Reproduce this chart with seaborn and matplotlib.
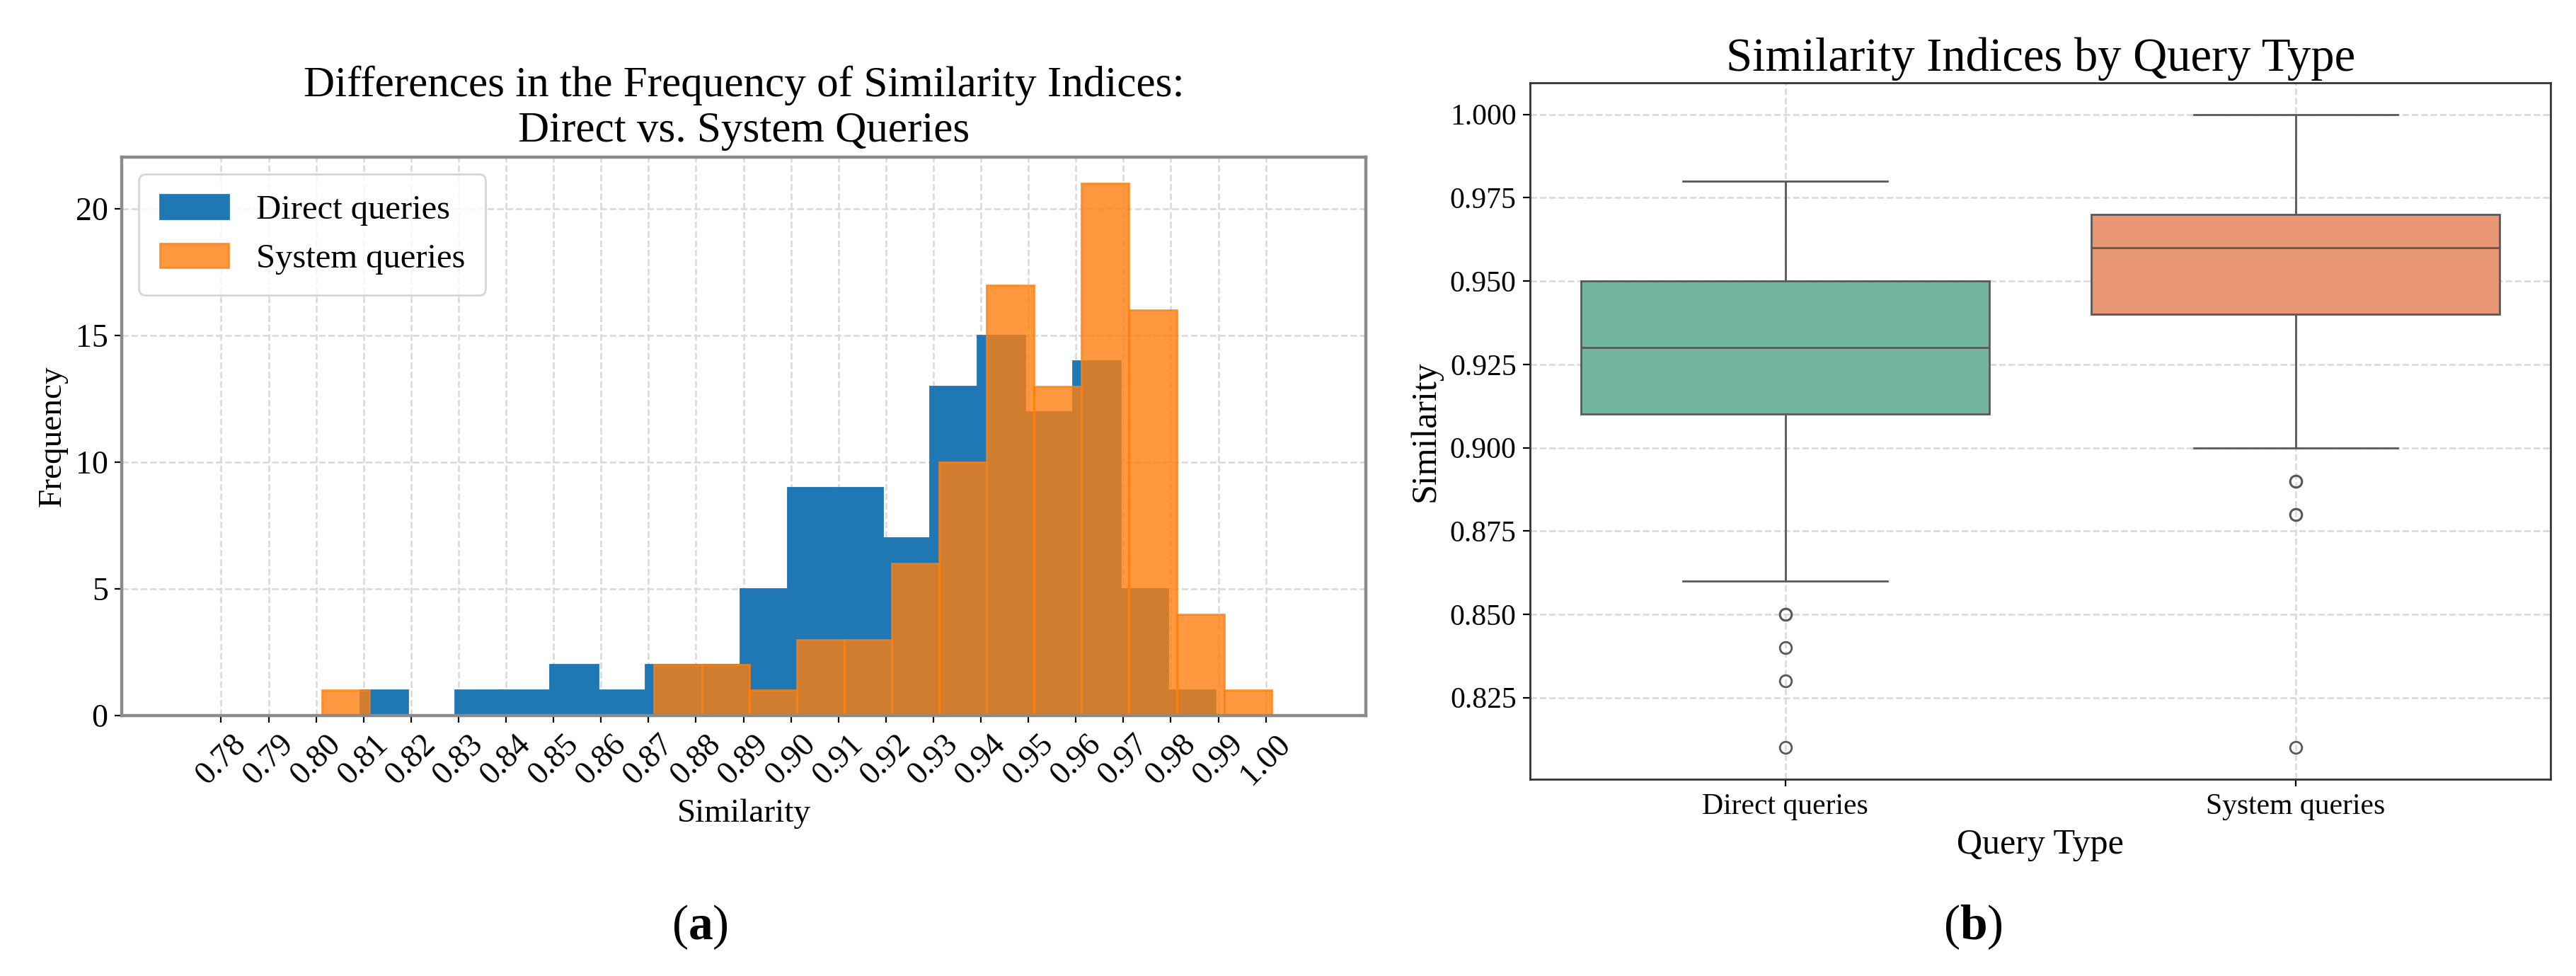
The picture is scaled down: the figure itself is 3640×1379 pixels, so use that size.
import numpy as np
import pandas as pd
import matplotlib
matplotlib.use("Agg")
import matplotlib.pyplot as plt
import seaborn as sns

# similarity levels (values were rounded to two decimals)
similarity_levels = [0.81, 0.82, 0.83, 0.84, 0.85, 0.86, 0.87, 0.88, 0.89, 0.90,
                     0.91, 0.92, 0.93, 0.94, 0.95, 0.96, 0.97, 0.98, 0.99, 1.00]

# how many queries got each similarity value
direct_counts = [1, 0, 1, 1, 2, 1, 2, 2, 5, 9, 9, 7, 13, 15, 12, 14, 5, 1, 0, 0]
system_counts = [1, 0, 0, 0, 0, 0, 0, 2, 2, 1, 3, 3, 6, 10, 17, 13, 21, 16, 4, 1]

xtick_labels = ["0.78", "0.79", "0.80", "0.81", "0.82", "0.83", "0.84", "0.85",
                "0.86", "0.87", "0.88", "0.89", "0.90", "0.91", "0.92", "0.93",
                "0.94", "0.95", "0.96", "0.97", "0.98", "0.99", "1.00"]

direct_values = np.repeat(similarity_levels, direct_counts)
system_values = np.repeat(similarity_levels, system_counts)

df = pd.DataFrame({
    "Query Type": ["Direct queries"] * len(direct_values) + ["System queries"] * len(system_values),
    "Similarity": np.concatenate([direct_values, system_values]),
})

plt.rcParams["font.family"] = ["Liberation Serif", "DejaVu Serif"]
plt.rcParams["mathtext.fontset"] = "custom"
plt.rcParams["mathtext.rm"] = "Liberation Serif"
plt.rcParams["mathtext.bf"] = "Liberation Serif:bold"

fig = plt.figure(figsize=(18.2, 6.895), dpi=200)

# ---------------- (a) histogram ----------------
ax1 = fig.add_axes([0.0473, 0.2669, 0.483, 0.5722])
blue = "#1f77b4"
orange = "#ff7f0e"
sns.histplot(x=direct_values, bins=18, binrange=(0.8093, 0.9893), color=blue, alpha=1.0,
             edgecolor=blue, linewidth=1.0, label="Direct queries", ax=ax1)
sns.histplot(x=system_values, bins=20, binrange=(0.8012, 1.0012), color=orange, alpha=0.8,
             edgecolor=(1.0, 0.498, 0.055, 0.8), linewidth=1.0, label="System queries", ax=ax1)

ax1.set_xticks([float(t) for t in xtick_labels])
ax1.set_xticklabels(xtick_labels, rotation=45, fontsize=16.5)
ax1.tick_params(axis="y", labelsize=16.5)
ax1.set_xlim(0.7591, 1.0211)
ax1.set_title("Differences in the Frequency of Similarity Indices:\nDirect vs. System Queries",
              fontsize=22, pad=8)
ax1.set_xlabel("Similarity", fontsize=17)
ax1.set_ylabel("Frequency", fontsize=17)
ax1.grid(True, linestyle="--", color="#d9d9d9", linewidth=0.9)
ax1.set_axisbelow(True)
for s in ax1.spines.values():
    s.set_color("#8a8a8a")
    s.set_linewidth(1.6)
ax1.legend(loc="upper left", fontsize=17.5, borderpad=0.6)

# ---------------- (b) boxplot ----------------
ax2 = fig.add_axes([0.594, 0.2016, 0.3962, 0.7136])
sns.boxplot(data=df, x="Query Type", y="Similarity", hue="Query Type", palette="Set2",
            legend=False, ax=ax2)
ax2.set_title("Similarity Indices by Query Type", fontsize=24, pad=6)
ax2.set_xlabel("Query Type", fontsize=18)
ax2.set_ylabel("Similarity", fontsize=18)
ax2.tick_params(axis="both", labelsize=15)
ax2.grid(True, linestyle="--", color="#d9d9d9", linewidth=0.9)
ax2.set_axisbelow(True)
for s in ax2.spines.values():
    s.set_color("#333333")
    s.set_linewidth(1.0)

fig.text(0.2717, 0.05, r"($\mathbf{a}$)", fontsize=25, ha="center", va="center")
fig.text(0.766, 0.05, r"($\mathbf{b}$)", fontsize=25, ha="center", va="center")

fig.savefig("out.png", dpi=200, facecolor="white")
